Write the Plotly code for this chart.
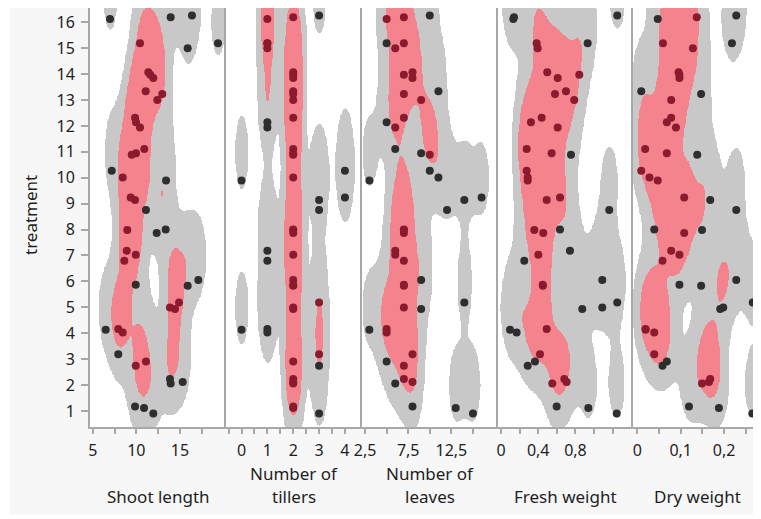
import numpy as np
import plotly.graph_objects as go
from plotly.subplots import make_subplots

# ---------------- data ----------------
treatment = [16, 16, 16, 15, 15, 15, 14, 14, 14, 13, 13, 13, 12, 12, 12, 11, 11, 11,
             10, 10, 10, 9, 9, 9, 8, 8, 8, 7, 7, 7, 6, 6, 6, 5, 5, 5, 4, 4, 4,
             3, 3, 3, 2, 2, 2, 1, 1, 1]
treatment_jittered = [16.26, 16.19, 16.13, 15.19, 15.19, 15.0, 14.07, 13.97, 13.85,
                      13.34, 13.23, 13.0, 12.31, 12.14, 11.94, 11.11, 10.94, 10.89,
                      10.27, 10.01, 9.89, 9.24, 9.14, 8.75, 8.0, 7.98, 7.87,
                      7.18, 7.03, 6.8, 6.05, 5.87, 5.83, 5.18, 4.99, 4.93,
                      4.16, 4.13, 4.03, 3.19, 2.91, 2.74, 2.23, 2.12, 2.06,
                      1.17, 1.11, 0.9]
shoot_length = [16.37, 13.93, 6.98, 10.42, 19.35, 15.88, 11.37, 11.6, 11.94,
                11.07, 12.97, 12.4, 9.85, 9.96, 10.42, 10.91, 9.96, 9.47,
                7.18, 8.44, 13.4, 9.35, 9.85, 11.1, 13.36, 8.96, 12.33,
                8.9, 9.93, 8.62, 17.1, 9.93, 15.88, 14.89, 13.85, 14.43,
                7.93, 6.49, 8.44, 7.93, 11.1, 9.93, 13.85, 15.31, 13.93,
                9.85, 10.88, 11.94]
number_of_tillers = [3, 2, 1, 1, 1, 1, 2, 2, 2, 2, 2, 2, 2, 1, 1, 2, 2, 2,
                     4, 2, 0, 4, 3, 3, 2, 2, 2, 1, 2, 1, 2, 2, 2, 3, 2, 2,
                     1, 0, 1, 3, 2, 3, 2, 2, 2, 2, 2, 3]
number_of_leaves = [10, 7, 5, 5, 7, 6, 8, 7, 8, 11, 7, 9, 7, 5, 6, 6, 9, 10,
                    10, 11, 3, 16, 14, 12, 7, 7, 7, 6, 6, 7, 9, 7, 7, 14, 7, 9,
                    5, 3, 5, 8, 5, 7, 7, 8, 6, 8, 13, 15]
fresh_weight = [1.249, 0.14, 0.132, 0.383, 0.931, 0.394, 0.497, 0.841, 0.609,
                0.698, 0.58, 0.787, 0.437, 0.322, 0.609, 0.276, 0.544, 0.752,
                0.276, 0.287, 0.287, 0.634, 0.491, 1.163, 0.634, 0.358, 0.454,
                0.741, 0.401, 0.25, 1.088, 0.448, 0.45, 1.249, 1.088, 0.873,
                0.491, 0.097, 0.168, 0.419, 0.365, 0.287, 0.68, 0.705, 0.551,
                0.598, 0.938, 1.243]
dry_weight = [0.228, 0.137, 0.047, 0.059, 0.218, 0.128, 0.095, 0.097, 0.097,
              0.009, 0.147, 0.078, 0.078, 0.068, 0.089, 0.018, 0.068, 0.138,
              0.009, 0.028, 0.047, 0.108, 0.168, 0.228, 0.039, 0.149, 0.108,
              0.078, 0.097, 0.058, 0.228, 0.097, 0.147, 0.266, 0.198, 0.191,
              0.019, 0.019, 0.039, 0.039, 0.068, 0.058, 0.168, 0.165, 0.149,
              0.119, 0.188, 0.265]

panel_titles = [["Shoot length"], ["Number of", "tillers"], ["Number of", "leaves"],
                ["Fresh weight"], ["Dry weight"]]
y_tick_values = list(range(1, 17))
x_tick_values = [
    [5, 7.5, 10, 12.5, 15, 17.5],
    [-0.5, 0, 0.5, 1, 1.5, 2, 2.5, 3, 3.5, 4],
    [2.5, 5, 7.5, 10, 12.5, 15],
    [0, 0.2, 0.4, 0.6, 0.8, 1.0, 1.2],
    [0, 0.05, 0.1, 0.15, 0.2, 0.25],
]
x_tick_labels = [
    ["5", "", "10", "", "15", ""],
    ["", "0", "", "1", "", "2", "", "3", "", "4"],
    ["2,5", "", "7,5", "", "12,5", ""],
    ["0", "", "0,4", "", "0,8", "", ""],
    ["0", "", "0,1", "", "0,2", ""],
]

# ---------------- style ----------------
x_ranges = [[4.69, 20.27], [-0.6, 4.66], [2.15, 17.9], [-0.032, 1.418], [-0.01, 0.285]]
y_range = [0.38, 16.55]
col_widths = [136, 136, 136, 135, 128]
GRAY = "#c8c8c8"
RED = "#f4838e"
PT_RED = "#8a1a2c"
PT_BLACK = "#2e2e2e"
AXIS_C = "#a8a8a8"
TXT = "#1e1e1e"
FONT = "Noto Sans"
BW_FACTOR = 0.29      # kernel bandwidth as fraction of std
KDE_Y_OFFSET = 1.0    # offset of the density surface (as in the reference)
RED_MASS = 0.50       # share of density mass inside the red region
GRAY_MASS = 0.90      # share of density mass inside the gray region

# page geometry: the browser body adds an 8px margin
W, H = 753, 511
ML, MR, MT, MB = 82, 0, 0, 92
PW, PH = W - ML - MR, H - MT - MB


def px_to_paper_y(page_y):
    return (PH - (page_y - 8 - MT)) / PH


def px_to_paper_x(page_x):
    return (page_x - 8 - ML) / PW


def hdr_level(d, p):
    v = np.sort(d.ravel())[::-1]
    c = np.cumsum(v)
    c /= c[-1]
    return v[min(np.searchsorted(c, p), v.size - 1)]


series = [shoot_length, number_of_tillers, number_of_leaves, fresh_weight, dry_weight]

fig = make_subplots(rows=1, cols=5, shared_yaxes=True, horizontal_spacing=0,
                    column_widths=col_widths)

t = np.array(treatment, float) + KDE_Y_OFFSET
yj = np.array(treatment_jittered, float)
hy = BW_FACTOR * np.std(np.array(treatment, float))


def density(gx, gy, x, hx):
    Kx = np.exp(-0.5 * ((gx[:, None] - x[None, :]) / hx) ** 2)
    Ky = np.exp(-0.5 * ((gy[:, None] - t[None, :]) / hy) ** 2)
    return Ky @ Kx.T


for i, xs in enumerate(series):
    x = np.array(xs, float)
    hx = BW_FACTOR * np.std(x)
    # extended grid for the mass-based levels
    ex = np.linspace(x.min() - 4 * hx, x.max() + 4 * hx, 400)
    ey = np.linspace(t.min() - 4 * hy, t.max() + 4 * hy, 400)
    Dext = density(ex, ey, x, hx)
    r = hdr_level(Dext, RED_MASS)
    g = hdr_level(Dext, GRAY_MASS)

    gx = np.linspace(x_ranges[i][0], x_ranges[i][1], 220)
    gy = np.linspace(y_range[0], y_range[1], 400)
    D = density(gx, gy, x, hx)
    Dp = np.sum(np.exp(-0.5 * ((x[:, None] - x[None, :]) / hx) ** 2)
                * np.exp(-0.5 * ((yj[:, None] - t[None, :]) / hy) ** 2), axis=1)
    z = np.where(D < g, D / g,
                 np.where(D < r, 1 + (D - g) / (r - g), 2 + np.minimum((D - r) / r, 1)))
    fig.add_trace(go.Heatmap(
        x=gx, y=gy, z=z, zmin=0, zmax=3, zsmooth="best", showscale=False,
        hoverinfo="skip",
        colorscale=[[0, "#ffffff"], [1 / 3, "#ffffff"], [1 / 3, GRAY], [2 / 3, GRAY],
                    [2 / 3, RED], [1, RED]]), row=1, col=i + 1)
    colors = [PT_RED if d >= r else PT_BLACK for d in Dp]
    fig.add_trace(go.Scatter(
        x=x, y=yj, mode="markers",
        marker=dict(size=8, color=colors, line=dict(width=0)),
        showlegend=False), row=1, col=i + 1)

    ax = "x" if i == 0 else f"x{i + 1}"
    fig.update_xaxes(range=x_ranges[i], tickmode="array", tickvals=x_tick_values[i],
                     ticktext=x_tick_labels[i], ticks="outside", ticklen=5,
                     tickcolor=AXIS_C, tickwidth=1.5, showline=True, linecolor=AXIS_C,
                     linewidth=2, showgrid=False, zeroline=False, ticklabelstandoff=3,
                     tickfont=dict(family=FONT, size=16, color=TXT),
                     row=1, col=i + 1)
    fig.update_yaxes(range=y_range, showline=True, linecolor=AXIS_C, linewidth=2,
                     showgrid=False, zeroline=False, row=1, col=i + 1)
    lines = panel_titles[i]
    ys = [496] if len(lines) == 1 else [473, 497]
    for txt, py in zip(lines, ys):
        fig.add_annotation(text=txt, xref=f"{ax} domain", yref="paper",
                           x=0.5, y=px_to_paper_y(py), yanchor="middle",
                           showarrow=False, font=dict(family=FONT, size=17, color=TXT))

fig.update_yaxes(tickmode="array", tickvals=y_tick_values, ticks="outside", ticklen=7,
                 tickcolor=AXIS_C, tickwidth=1.5, ticklabelstandoff=3,
                 tickfont=dict(family=FONT, size=16, color=TXT), row=1, col=1)

fig.add_annotation(text="treatment", xref="paper", yref="paper", x=px_to_paper_x(30),
                   y=px_to_paper_y(215), textangle=-90, showarrow=False,
                   xanchor="center", yanchor="middle",
                   font=dict(family=FONT, size=17, color=TXT))

# white border strips outside the light gray panel background
fig.add_shape(type="rect", xref="paper", yref="paper", x0=-0.3,
              x1=px_to_paper_x(10), y0=-0.3, y1=1.1, fillcolor="white",
              line_width=0, layer="below")
fig.add_shape(type="rect", xref="paper", yref="paper", x0=-0.3, x1=1.1,
              y0=-0.3, y1=px_to_paper_y(515), fillcolor="white", line_width=0,
              layer="below")

fig.update_layout(width=W, height=H, margin=dict(l=ML, r=MR, t=MT, b=MB),
                  paper_bgcolor="#f7f7f7", plot_bgcolor="white", showlegend=False)

fig.write_html("out.html")
